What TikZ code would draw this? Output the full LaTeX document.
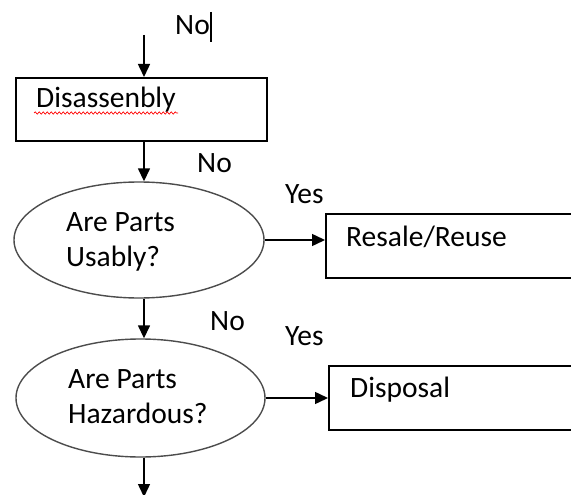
\documentclass[tikz,border=0pt]{standalone}
\usepackage{fontspec}
\setmainfont{Carlito}
\usetikzlibrary{arrows.meta,shapes.geometric,decorations.pathmorphing}

\tikzset{
  lbl/.style={anchor=base west, inner sep=0pt, font=\fontsize{29.5}{35.5}\selectfont, align=left},
  stepbox/.style={draw=black, line width=1.7pt, rectangle, inner sep=0pt, anchor=north west},
  decision/.style={draw=black!70, line width=1.4pt, ellipse, inner sep=0pt},
  arr/.style={line width=1.5pt, -{Triangle[length=13pt,width=12pt]}},
}

\begin{document}
\begin{tikzpicture}[x=1pt,y=-1pt]
  \useasboundingbox (0,0) rectangle (571,495);
  \clip (0,0) rectangle (571,495);

  % process boxes (the two on the right run past the page edge)
  \node[stepbox, minimum width=251pt, minimum height=63pt] (dis) at (15,77) {};
  \node[stepbox, minimum width=300pt, minimum height=64pt] (res) at (325,213) {};
  \node[stepbox, minimum width=300pt, minimum height=64pt] (disp) at (328,365) {};

  % decisions
  \node[decision, minimum width=250pt, minimum height=116pt] (q1) at (139,240) {};
  \node[decision, minimum width=249pt, minimum height=118pt] (q2) at (140.5,398) {};

  % vertical flow line ends
  \coordinate (top) at (144,35);
  \coordinate (bottom) at (144,497);

  % texts (two-line labels are placed by their last baseline)
  \node[lbl] (t0) at (175,35) {No};
  \node[lbl] (tdis) at (36,108) {Disassenbly};
  \node[lbl] (t1) at (197,172) {No};
  \node[lbl] (y1) at (285,203) {Yes};
  \node[lbl] (tq1) at (66,266.5) {Are Parts\\Usably?};
  \node[lbl] (tres) at (346,246) {Resale/Reuse};
  \node[lbl] (t2) at (210,330) {No};
  \node[lbl] (y2) at (285,345) {Yes};
  \node[lbl] (tq2) at (68,423.5) {Are Parts\\Hazardous?};
  \node[lbl] (tdisp) at (350,397) {Disposal};

  % text cursor after the first "No"
  \draw[line width=2.6pt] (211,12) -- (211,42);

  % spell-check underline
  \draw[red, line width=0.7pt, decorate,
        decoration={snake, segment length=4pt, amplitude=1.1pt}]
        (34,113) -- (178,113);

  % connectors
  \draw[arr] (top) -- (top |- dis.north);
  \draw[arr] (dis.south -| top) -- (q1.north -| top);
  \draw[arr] (q1.east) -- (q1.east -| res.west);
  \draw[arr] (q1.south -| top) -- (q2.north -| top);
  \draw[arr] (q2.east) -- (q2.east -| disp.west);
  \draw[arr] (q2.south -| top) -- (bottom);
\end{tikzpicture}
\end{document}
